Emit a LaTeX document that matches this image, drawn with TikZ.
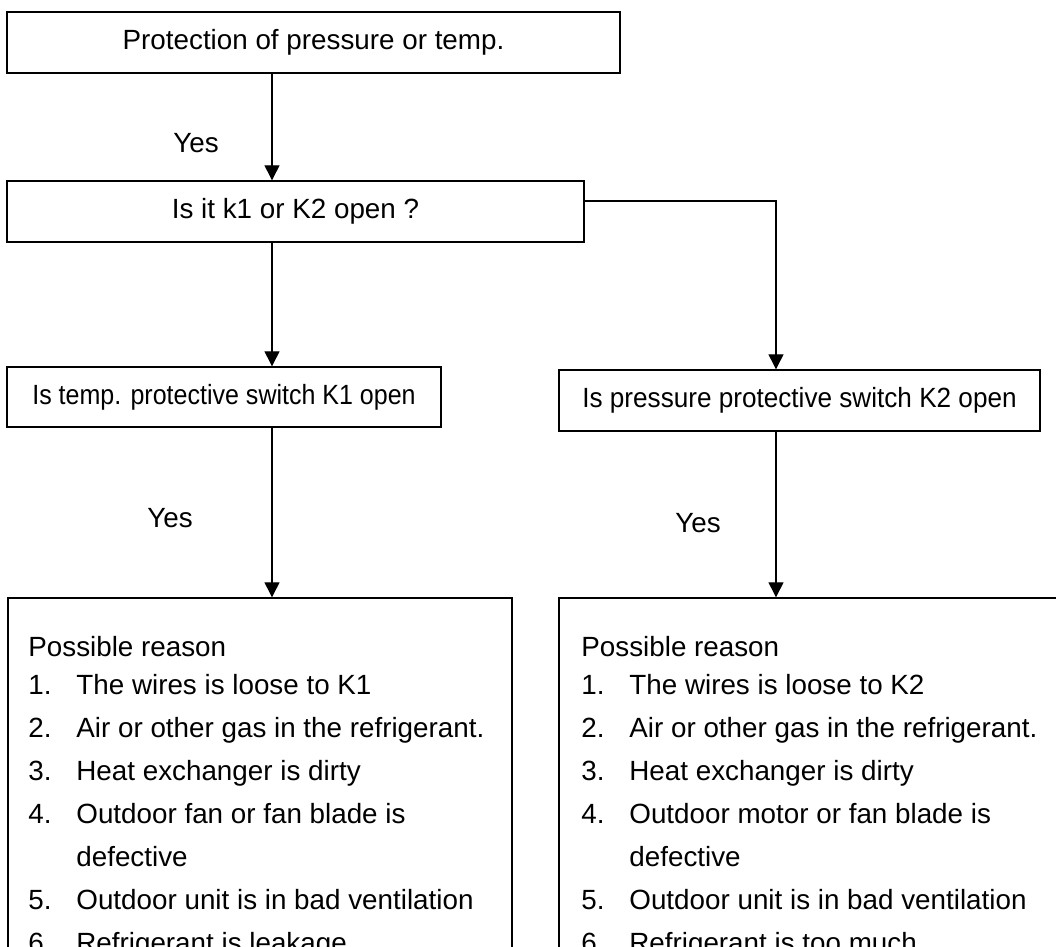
\documentclass[tikz,border=0pt]{standalone}
\usepackage{fontspec}
\setmainfont{Liberation Sans}
\usepackage{graphicx}
\usetikzlibrary{positioning, arrows.meta}

\tikzset{
  flowbox/.style={draw, line width=0.7pt, inner sep=0pt,
                  font=\fontsize{13.9pt}{16pt}\selectfont},
  flowarrow/.style={line width=0.65pt, -{Triangle[length=7.5pt, width=7.5pt]}},
  reasontext/.style={inner sep=0pt, align=left, anchor=north west,
                     font=\fontsize{13.9pt}{21.5pt}\selectfont},
  yeslabel/.style={font=\fontsize{13.9pt}{16pt}\selectfont},
}
\newcommand{\reasonitem}[2]{\makebox[24pt][l]{#1}#2}

\begin{document}
\begin{tikzpicture}[x=0.5pt, y=-0.5pt]
  \useasboundingbox (0,0) rectangle (1056,947);
  \clip (0,0) rectangle (1056,947);

  \node[flowbox, minimum width=306.5pt, minimum height=30.5pt] (prot) at (313.5,42.5)
    {Protection of pressure or temp.};
  \node[flowbox, minimum width=288.5pt, minimum height=30.5pt] (kopen) at (295.5,211.5)
    {Is it k1 or K2 open ?};
  \node[flowbox, minimum width=217pt, minimum height=30pt] (tsw) at (224,397)
    {\scalebox{0.9}[1]{Is temp. protective switch K1 open}};
  \node[flowbox, minimum width=240.5pt, minimum height=30.5pt] (psw) at (799.5,400.5)
    {\scalebox{0.94}[1]{Is pressure protective switch K2 open}};
  \node[flowbox, minimum width=252pt, minimum height=210pt] (reasonA) at (260,808) {};
  \node[flowbox, minimum width=250.5pt, minimum height=210pt] (reasonB) at (809.5,808) {};

  \coordinate (colL) at (272,0);
  \coordinate (colR) at (776,201);

  \draw[flowarrow] (prot.south -| colL) -- (kopen.north -| colL);
  \draw[flowarrow] (kopen.south -| colL) -- (tsw.north -| colL);
  \draw[flowarrow] (kopen.east |- colR) -- (colR) -- (psw.north -| colR);
  \draw[flowarrow] (tsw.south -| colL) -- (reasonA.north -| colL);
  \draw[flowarrow] (psw.south -| colR) -- (reasonB.north -| colR);

  \node[yeslabel] (yes1) at (196,143) {Yes};
  \node[yeslabel] (yes2) at (170,518) {Yes};
  \node[yeslabel] (yes3) at (698,523) {Yes};

  \node[reasontext] (listA) at (28,636) {Possible reason\\[-2.5pt]
    \reasonitem{1.}{The wires is loose to K1}\\
    \reasonitem{2.}{Air or other gas in the refrigerant.}\\
    \reasonitem{3.}{Heat exchanger is dirty}\\
    \reasonitem{4.}{Outdoor fan or fan blade is}\\
    \reasonitem{}{defective}\\
    \reasonitem{5.}{Outdoor unit is in bad ventilation}\\
    \reasonitem{6.}{Refrigerant is leakage}};
  \node[reasontext] (listB) at (581,636) {Possible reason\\[-2.5pt]
    \reasonitem{1.}{The wires is loose to K2}\\
    \reasonitem{2.}{Air or other gas in the refrigerant.}\\
    \reasonitem{3.}{Heat exchanger is dirty}\\
    \reasonitem{4.}{Outdoor motor or fan blade is}\\
    \reasonitem{}{defective}\\
    \reasonitem{5.}{Outdoor unit is in bad ventilation}\\
    \reasonitem{6.}{Refrigerant is too much}};
\end{tikzpicture}
\end{document}
